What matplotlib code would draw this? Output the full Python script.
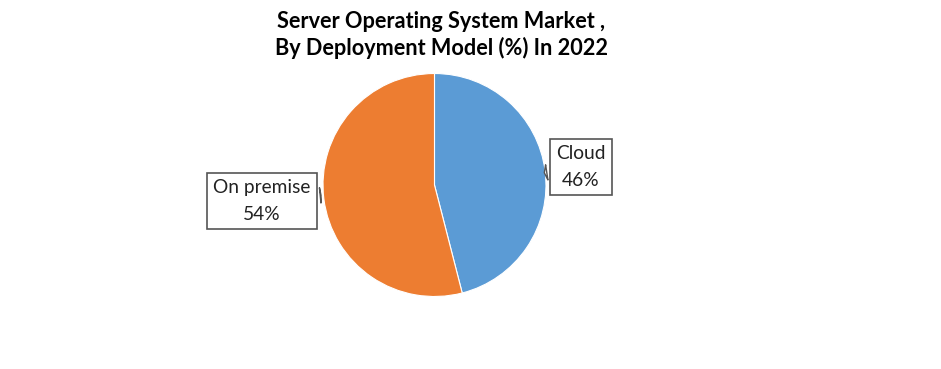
import matplotlib.pyplot as plt

labels = ['Cloud', 'On premise']
shares = [46, 54]
colors = ['#5B9BD5', '#ED7D31']

title = 'Server Operating System Market ,\nBy Deployment Model (%) In 2022'

plt.rcParams['font.family'] = ['Lato', 'DejaVu Sans']

fig = plt.figure(figsize=(9.41, 3.69), dpi=100)
ax = fig.add_axes([0, 0, 1, 1])

ax.pie(shares, colors=colors, startangle=90, counterclock=False,
       radius=1, wedgeprops=dict(edgecolor='white', linewidth=0.8))

# pie centre sits at (434.5, 185) px with radius 111.5 px
ax.set_xlim(-3.897, 4.543)
ax.set_ylim(-1.650, 1.659)
ax.axis('off')

# callout labels
label_pos = [(1.314, 0.16), (-1.547, -0.145)]
tip_pos = [(0.985, 0.11), (-0.993, -0.09)]
for lab, val, xy, xytext in zip(labels, shares, tip_pos, label_pos):
    ax.annotate(f'{lab}\n{val}%', xy=xy, xytext=xytext,
                ha='center', va='center', fontsize=13.8, color='#222222',
                linespacing=1.7,
                bbox=dict(boxstyle='square,pad=0.32', fc='white', ec='#555555', lw=1.2),
                arrowprops=dict(arrowstyle='wedge,tail_width=0.8,shrink_factor=0.5',
                                fc='white', ec='#555555', lw=1.0))

fig.text(0.469, 0.905, title, ha='center', va='center', fontsize=15.6,
         fontweight='bold', linespacing=1.25)

fig.savefig('out.png', dpi=100, facecolor='white')
